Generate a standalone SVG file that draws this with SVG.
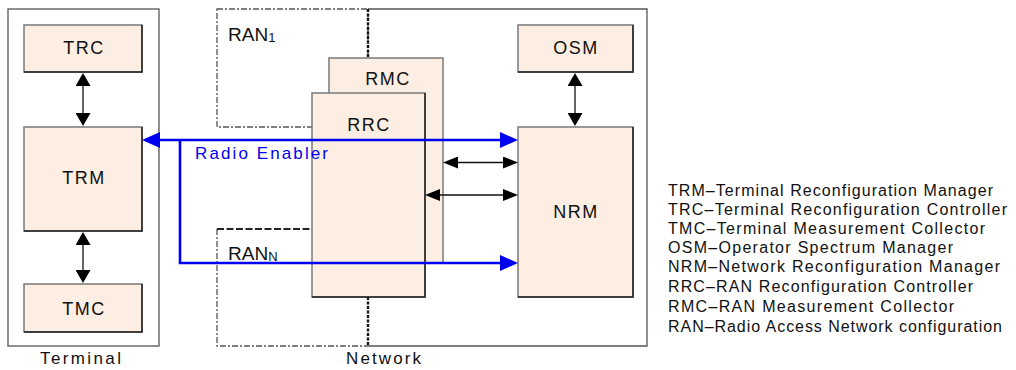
<svg xmlns="http://www.w3.org/2000/svg" width="1016" height="370" viewBox="0 0 1016 370">
  <defs>
    <style>
      .frame { fill: #ffffff; stroke: #555555; stroke-width: 1.3; }
      .box { fill: #FCEEE2; stroke: #7a7a7a; stroke-width: 1.5; }
      .edge { fill: none; stroke: #222222; stroke-width: 1.5; }
      .lbl { font-family: "Liberation Sans", Arial, sans-serif; font-size: 18px; letter-spacing: 1.5px; fill: #111111; text-anchor: middle; }
      .ran { font-family: "Liberation Sans", Arial, sans-serif; font-size: 19px; fill: #111111; }
      .cap { font-family: "Liberation Sans", Arial, sans-serif; font-size: 17px; fill: #111111; }
      .legend { font-family: "Liberation Sans", Arial, sans-serif; font-size: 16px; fill: #111111; }
      .ranline { fill: none; stroke: #555555; stroke-width: 1.3; stroke-dasharray: 6 2 2 2; }
      .ranthick { fill: none; stroke: #222222; stroke-width: 2.2; stroke-dasharray: 7 2.5; }
      .netdot { fill: none; stroke: #111111; stroke-width: 2.4; stroke-dasharray: 3 1.5; }
      .blue { fill: none; stroke: #0000F0; stroke-width: 2.6; }
      .blk { fill: none; stroke: #111111; stroke-width: 1.3; }
    </style>
    <marker id="blueHead" markerUnits="userSpaceOnUse" viewBox="0 0 18 16" markerWidth="18" markerHeight="16" refX="8" refY="8" orient="auto-start-reverse">
      <path d="M0,0 L18,8 L0,16 z" fill="#0000F0"/>
    </marker>
    <marker id="blkHead" markerUnits="userSpaceOnUse" viewBox="0 0 15 12" markerWidth="15" markerHeight="12" refX="7" refY="6" orient="auto-start-reverse">
      <path d="M0,0 L15,6 L0,12 z" fill="#000000"/>
    </marker>
    <marker id="vHead" markerUnits="userSpaceOnUse" viewBox="0 0 13 15" markerWidth="13" markerHeight="15" refX="6" refY="7.5" orient="auto-start-reverse">
      <path d="M0,0 L13,7.5 L0,15 z" fill="#000000"/>
    </marker>
  </defs>

  <rect width="1016" height="370" fill="#ffffff"/>

  <!-- Terminal domain -->
  <g id="terminal">
    <rect class="frame" x="8" y="9" width="151" height="337"/>
    <text class="cap" x="40" y="364" textLength="81" lengthAdjust="spacing">Terminal</text>
  </g>

  <!-- Network domain -->
  <g id="network">
    <path d="M368,9 H647 V346 H368" fill="#ffffff" stroke="#555555" stroke-width="1.3"/>
    <text class="cap" x="346" y="364" textLength="75" lengthAdjust="spacing">Network</text>
  </g>

  <!-- RAN configuration areas -->
  <g id="ran1">
    <rect class="ranline" x="217" y="9" width="151" height="118" fill="#ffffff"/>
    <text class="ran" x="228" y="41">RAN<tspan font-size="13" dy="1">1</tspan></text>
  </g>
  <g id="ranN">
    <path class="ranline" d="M217,229 V346 H368"/>
    <path class="ranthick" d="M217,229 H368"/>
    <text class="ran" x="228" y="260">RAN<tspan font-size="13" dy="1">N</tspan></text>
  </g>
  <path class="netdot" d="M368,9 V346"/>

  <!-- Terminal nodes -->
  <g id="trc">
    <rect class="box" x="24" y="25" width="118" height="47"/>
    <path class="edge" d="M142,25 V72 H24"/>
    <text class="lbl" x="84" y="54">TRC</text>
  </g>
  <g id="trm">
    <rect class="box" x="24" y="127" width="118" height="104"/>
    <path class="edge" d="M142,127 V231 H24"/>
    <text class="lbl" x="84" y="184">TRM</text>
  </g>
  <g id="tmc">
    <rect class="box" x="24" y="284" width="118" height="48"/>
    <path class="edge" d="M142,284 V332 H24"/>
    <text class="lbl" x="84" y="315">TMC</text>
  </g>

  <!-- Network nodes -->
  <g id="rmc">
    <rect class="box" x="329" y="58" width="114" height="205"/>
    <text class="lbl" x="388" y="85">RMC</text>
  </g>
  <g id="rrc">
    <rect class="box" x="312" y="93" width="113" height="204"/>
    <path class="edge" d="M425,93 V297 H312"/>
    <text class="lbl" x="369" y="131">RRC</text>
  </g>
  <g id="osm">
    <rect class="box" x="518" y="25" width="115" height="47"/>
    <path class="edge" d="M633,25 V72 H518"/>
    <text class="lbl" x="576" y="54">OSM</text>
  </g>
  <g id="nrm">
    <rect class="box" x="518" y="127" width="115" height="170"/>
    <path class="edge" d="M633,127 V297 H518"/>
    <text class="lbl" x="576" y="218">NRM</text>
  </g>

  <!-- Connectors -->
  <g id="connectors">
    <path class="blk" d="M83,80 V119" marker-start="url(#vHead)" marker-end="url(#vHead)"/>
    <path class="blk" d="M83,239 V276" marker-start="url(#vHead)" marker-end="url(#vHead)"/>
    <path class="blk" d="M575,80 V119" marker-start="url(#vHead)" marker-end="url(#vHead)"/>
    <path class="blk" d="M451,162.5 H510" marker-start="url(#blkHead)" marker-end="url(#blkHead)"/>
    <path class="blk" d="M433,195 H510" marker-start="url(#blkHead)" marker-end="url(#blkHead)"/>
    <path class="blue" d="M152,140 H508" marker-start="url(#blueHead)" marker-end="url(#blueHead)"/>
    <path class="blue" d="M180,140 V263 H508" marker-end="url(#blueHead)"/>
    <text x="195" y="159" font-family="Liberation Sans, Arial, sans-serif" font-size="17" fill="#0000F0" textLength="133" lengthAdjust="spacing">Radio Enabler</text>
  </g>

  <!-- Abbreviations -->
  <g id="legend" class="legend">
    <text x="668" y="196" textLength="325" lengthAdjust="spacing">TRM–Terminal Reconfiguration Manager</text>
    <text x="668" y="215" textLength="339" lengthAdjust="spacing">TRC–Terminal Reconfiguration Controller</text>
    <text x="668" y="234" textLength="317" lengthAdjust="spacing">TMC–Terminal Measurement Collector</text>
    <text x="668" y="253" textLength="285" lengthAdjust="spacing">OSM–Operator Spectrum Manager</text>
    <text x="668" y="272" textLength="332" lengthAdjust="spacing">NRM–Network Reconfiguration Manager</text>
    <text x="668" y="292" textLength="305" lengthAdjust="spacing">RRC–RAN Reconfiguration Controller</text>
    <text x="668" y="312" textLength="286" lengthAdjust="spacing">RMC–RAN Measurement Collector</text>
    <text x="668" y="332" textLength="334" lengthAdjust="spacing">RAN–Radio Access Network configuration</text>
  </g>
</svg>
